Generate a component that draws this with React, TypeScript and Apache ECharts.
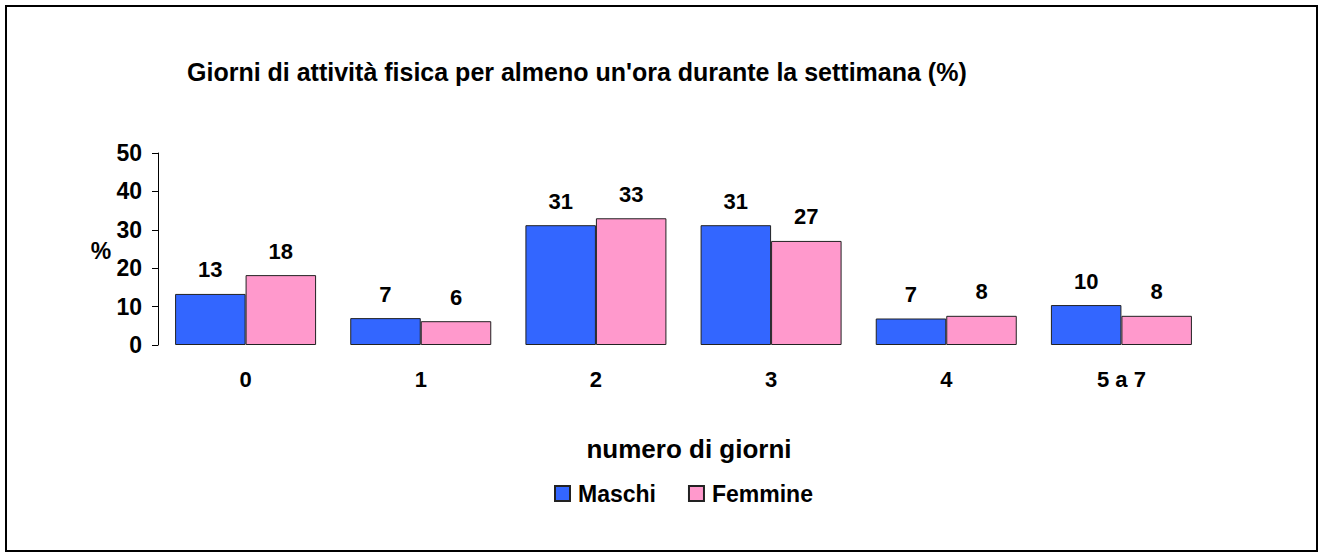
import React, { useEffect, useRef } from "react";
import * as echarts from "echarts";

const categories = ["0", "1", "2", "3", "4", "5 a 7"];
const maschi = [13.3, 7.0, 31.2, 31.2, 6.9, 10.4];
const femmine = [18.2, 6.2, 33.0, 27.1, 7.6, 7.6];
const yTicks = { min: 0, max: 50, interval: 10 };
const titleText = "Giorni di attività fisica per almeno un'ora durante la settimana (%)";
const xName = "numero di giorni";
const yName = "%";

const FONT = "'Liberation Sans', Arial, sans-serif";

export default function App() {
  const ref = useRef<HTMLDivElement>(null);
  useEffect(() => {
    document.body.style.margin = "0";
    const chart = echarts.init(ref.current!, null, { renderer: "svg" });
    const labelStyle = {
      show: true,
      position: "top",
      distance: 13,
      fontFamily: FONT,
      fontWeight: "bold",
      fontSize: 22,
      color: "#000",
      formatter: (p: any) => String(Math.round(p.value)),
    };
    chart.setOption({
      animation: false,
      backgroundColor: "#fff",
      textStyle: { fontFamily: FONT },
      graphic: [
        {
          type: "rect",
          shape: { x: 6, y: 6, width: 1311, height: 545 },
          style: { fill: "#fff", stroke: "#000", lineWidth: 2 },
          z: -10,
        },
        {
          type: "text",
          x: 187,
          y: 72,
          style: {
            text: titleText,
            font: `bold 25px ${FONT}`,
            fill: "#000",
            textVerticalAlign: "middle",
          },
        },
        {
          type: "text",
          x: 101,
          y: 251,
          style: {
            text: yName,
            font: `bold 23px ${FONT}`,
            fill: "#000",
            textAlign: "center",
            textVerticalAlign: "middle",
          },
        },
        {
          type: "text",
          x: 689,
          y: 449,
          style: {
            text: xName,
            font: `bold 26px ${FONT}`,
            fill: "#000",
            textAlign: "center",
            textVerticalAlign: "middle",
          },
        },
      ],
      legend: {
        left: 549,
        top: 477,
        itemWidth: 15,
        itemHeight: 15,
        itemGap: 32,
        icon: "rect",
        textStyle: { fontFamily: FONT, fontWeight: "bold", fontSize: 23, color: "#000", padding: [0, 0, 0, 3] },
        data: ["Maschi", "Femmine"],
      },
      grid: { left: 158, top: 153, width: 1051, height: 192, containLabel: false },
      xAxis: {
        type: "category",
        data: categories,
        axisLine: { show: false },
        axisTick: { show: false },
        axisLabel: { fontFamily: FONT, fontWeight: "bold", fontSize: 22, color: "#000", margin: 23 },
      },
      yAxis: {
        type: "value",
        min: yTicks.min,
        max: yTicks.max,
        interval: yTicks.interval,
        splitLine: { show: false },
        axisLine: { show: true, lineStyle: { color: "#000", width: 1 } },
        axisTick: { show: true, inside: false, length: 6, lineStyle: { color: "#000" } },
        axisLabel: { fontFamily: FONT, fontWeight: "bold", fontSize: 23, color: "#000", margin: 16 },
      },
      series: [
        {
          name: "Maschi",
          type: "bar",
          data: maschi,
          barGap: "0%",
          barCategoryGap: "19.5%",
          itemStyle: { color: "#3366FF", borderColor: "#222", borderWidth: 1 },
          label: labelStyle,
        },
        {
          name: "Femmine",
          type: "bar",
          data: femmine,
          barGap: "0%",
          barCategoryGap: "19.5%",
          itemStyle: { color: "#FF99CC", borderColor: "#222", borderWidth: 1 },
          label: labelStyle,
        },
      ],
    });
    return () => chart.dispose();
  }, []);
  return (
    <div
      ref={ref}
      style={{ position: "absolute", left: 0, top: 0, width: 1320, height: 554 }}
    />
  );
}
